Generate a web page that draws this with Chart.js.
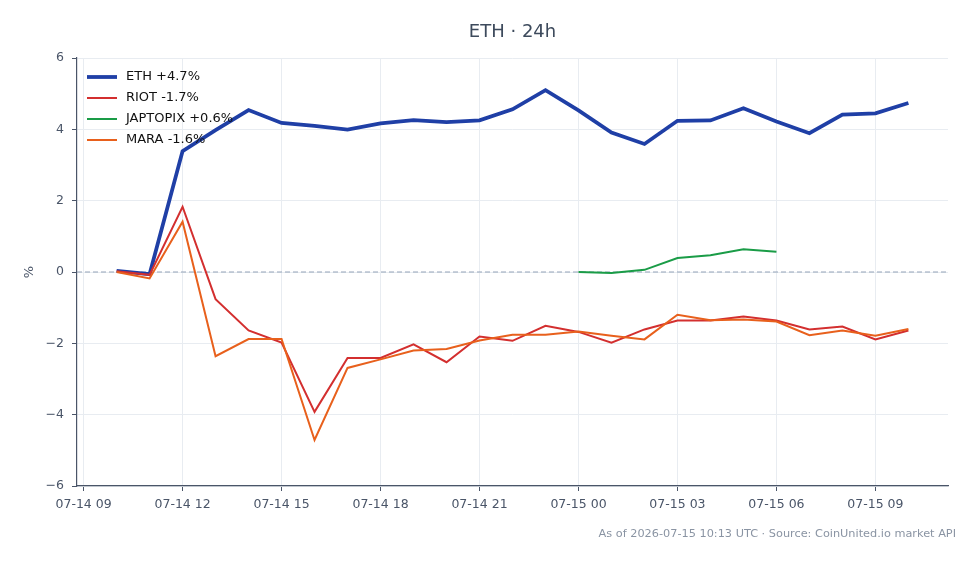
<!DOCTYPE html>
<html>
<head>
<meta charset="utf-8">
<script src="https://cdn.jsdelivr.net/npm/chart.js@4.4.1/dist/chart.umd.min.js"></script>
<style>
  html, body { margin: 0; padding: 0; background: #fff; }
  canvas { display: block; }
</style>
</head>
<body>
<canvas id="chart" width="980" height="564"></canvas>
<script>
// hours counted from 07-14 00:00 UTC
const hours = [10, 11, 12, 13, 14, 15, 16, 17, 18, 19, 20, 21, 22, 23, 24,
  25, 26, 27, 28, 29, 30, 31, 32, 33, 34];
const tickHours = [9, 12, 15, 18, 21, 24, 27, 30, 33];
const yTicks = [-6, -4, -2, 0, 2, 4, 6];

const eth = [0.03, -0.06, 3.39, 3.98, 4.54, 4.18, 4.1, 3.99, 4.17, 4.26, 4.2, 4.25, 4.56, 5.1,
  4.53, 3.91, 3.59, 4.24, 4.25, 4.59, 4.22, 3.89, 4.41, 4.45, 4.74];
const riot = [0.02, -0.08, 1.83, -0.76, -1.64, -1.98, -3.92, -2.41, -2.41, -2.03, -2.53, -1.81,
  -1.93, -1.51, -1.68, -1.98, -1.61, -1.36, -1.36, -1.25, -1.36, -1.61, -1.53, -1.89, -1.64];
const japtopix = [null, null, null, null, null, null, null, null, null, null, null, null,
  null, null, 0.0, -0.03, 0.06, 0.39, 0.47, 0.64, 0.57, null, null, null, null];
const mara = [0.0, -0.18, 1.41, -2.36, -1.88, -1.88, -4.71, -2.69, -2.45, -2.2, -2.16, -1.92,
  -1.76, -1.76, -1.67, -1.79, -1.89, -1.2, -1.35, -1.33, -1.39, -1.77, -1.64, -1.79, -1.6];

const names = ['ETH +4.7%', 'RIOT -1.7%', 'JAPTOPIX +0.6%', 'MARA -1.6%'];
const colors = ['#1f3fa6', '#d32f2f', '#1a9c47', '#e8601c'];
const widths = [3.8, 2, 2, 2];

const FONT = '"DejaVu Sans", sans-serif';
const INK = '#4a5568';

function pts(vals) {
  return hours.map((h, i) => ({ x: h, y: vals[i] })).filter(p => p.y !== null);
}

function hourLabel(h) {
  const day = 14 + Math.floor(h / 24);
  const hh = h % 24;
  return '07-' + day + ' ' + String(hh).padStart(2, '0');
}

const extras = {
  id: 'extras',
  beforeDatasetsDraw(chart) {
    const { ctx, chartArea: a, scales } = chart;
    const y0 = scales.y.getPixelForValue(0);
    ctx.save();
    ctx.strokeStyle = '#94a3b8';
    ctx.lineWidth = 1;
    ctx.setLineDash([5, 3]);
    ctx.beginPath();
    ctx.moveTo(a.left, y0);
    ctx.lineTo(a.right, y0);
    ctx.stroke();
    ctx.restore();
  },
  afterDraw(chart) {
    const { ctx, chartArea: a } = chart;
    ctx.save();
    // title
    ctx.fillStyle = '#3d4a5c';
    ctx.font = '18px ' + FONT;
    ctx.textAlign = 'center';
    ctx.textBaseline = 'middle';
    ctx.fillText('ETH · 24h', (a.left + a.right) / 2, 32);

    // legend
    ctx.font = '13px ' + FONT;
    ctx.textAlign = 'left';
    chart.data.datasets.forEach((ds, i) => {
      const y = a.top + 19 + i * 21;
      ctx.strokeStyle = ds.borderColor;
      ctx.lineWidth = ds.borderWidth;
      ctx.beginPath();
      ctx.moveTo(a.left + 10, y);
      ctx.lineTo(a.left + 40, y);
      ctx.stroke();
      ctx.fillStyle = '#111';
      ctx.fillText(ds.label, a.left + 49, y);
    });

    // source note
    ctx.fillStyle = '#8a94a3';
    ctx.font = '11.3px ' + FONT;
    ctx.textAlign = 'right';
    ctx.fillText('As of 2026-07-15 10:13 UTC · Source: CoinUnited.io market API', 956, 534);
    ctx.restore();
  }
};

const series = [eth, riot, japtopix, mara];

new Chart(document.getElementById('chart'), {
  type: 'line',
  data: {
    datasets: series.map((vals, i) => ({
      label: names[i],
      data: pts(vals),
      borderColor: colors[i],
      backgroundColor: colors[i],
      borderWidth: widths[i],
      pointRadius: 0,
      tension: 0,
      order: series.length - i
    }))
  },
  options: {
    responsive: false,
    animation: false,
    layout: { padding: { top: 58, right: 32, bottom: 0, left: 0 } },
    plugins: {
      legend: { display: false },
      title: { display: false },
      tooltip: { enabled: false }
    },
    scales: {
      x: {
        type: 'linear',
        min: 8.8,
        max: 35.2,
        afterBuildTicks: s => { s.ticks = tickHours.map(v => ({ value: v })); },
        afterFit: s => { s.height = 78; },
        grid: { color: '#e8ecf1', tickColor: INK, tickLength: 5 },
        border: { color: INK, width: 1.2 },
        ticks: {
          color: INK,
          font: { family: FONT, size: 12.5 },
          padding: 6,
          maxRotation: 0,
          callback: v => hourLabel(v)
        }
      },
      y: {
        min: -6,
        max: 6,
        afterBuildTicks: s => { s.ticks = yTicks.map(v => ({ value: v })); },
        afterFit: s => { s.width = 77; },
        grid: { color: '#e8ecf1', tickColor: INK, tickLength: 5 },
        border: { color: INK, width: 1.2 },
        title: {
          display: true,
          text: '%',
          color: INK,
          font: { family: FONT, size: 13 },
          padding: { top: 22, bottom: 0 }
        },
        ticks: {
          color: INK,
          font: { family: FONT, size: 12.5 },
          padding: 8,
          callback: v => String(v).replace('-', '\u2212')
        }
      }
    }
  },
  plugins: [extras]
});
</script>
</body>
</html>
